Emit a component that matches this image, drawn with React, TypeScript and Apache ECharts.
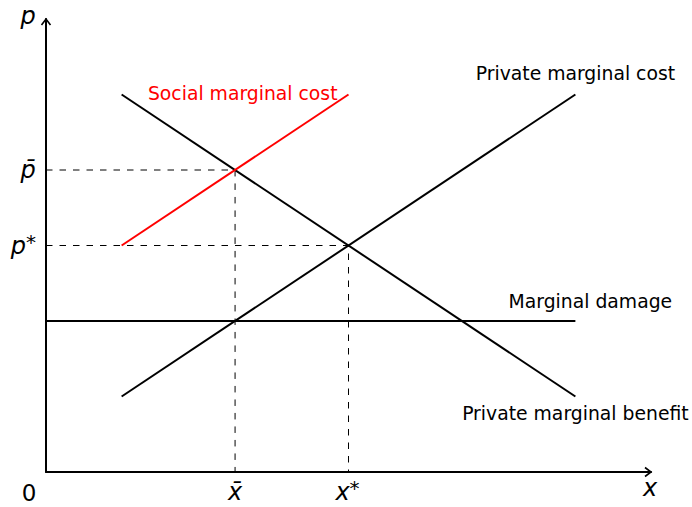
import React, { useEffect, useRef } from "react";
import * as echarts from "echarts";

// Curves (x, p) in diagram units
const privateMarginalCost: [number, number][] = [[1, 1], [7, 5]];
const privateMarginalBenefit: [number, number][] = [[1, 5], [7, 1]];
const marginalDamage: [number, number][] = [[0, 2], [7, 2]];
const socialMarginalCost: [number, number][] = [[1, 3], [4, 5]];
// Equilibria
const socialOptimum: [number, number] = [2.5, 4]; // (x̄, p̄)
const marketEquilibrium: [number, number] = [4, 3]; // (x*, p*)
// Axis extents
const xMax = 8;
const yMax = 6;
// Labels
const curveLabels = {
  pmc: "Private marginal cost",
  pmb: "Private marginal benefit",
  md: "Marginal damage",
  smc: "Social marginal cost",
};

const FONT = "DejaVu Sans";

export default function App() {
  const ref = useRef<HTMLDivElement>(null);

  useEffect(() => {
    const el = ref.current!;
    const chart = echarts.init(el, null, { renderer: "svg" });

    const solid = (name: string, data: [number, number][], color: string) => ({
      type: "line",
      name,
      data,
      symbol: "none",
      silent: true,
      lineStyle: { color, width: 2 },
      z: 3,
    });
    const dashed = (name: string, pt: [number, number]) => ({
      type: "line",
      name,
      data: [[0, pt[1]], [pt[0], pt[1]], [pt[0], 0]],
      symbol: "none",
      silent: true,
      lineStyle: { color: "#000", width: 1, type: [6.5, 7] },
      z: 2,
    });

    const axisCommon = {
      type: "value",
      axisLine: { show: true, onZero: false, lineStyle: { color: "#000", width: 2 } },
      axisTick: { show: false },
      axisLabel: { show: false },
      splitLine: { show: false },
    };

    chart.setOption({
      animation: false,
      backgroundColor: "#fff",
      grid: { left: 46, top: 19, right: 41, bottom: 35 },
      xAxis: { ...axisCommon, min: 0, max: xMax },
      yAxis: { ...axisCommon, min: 0, max: yMax },
      series: [
        dashed("pbar", socialOptimum),
        dashed("pstar", marketEquilibrium),
        solid(curveLabels.pmc, privateMarginalCost, "#000"),
        solid(curveLabels.pmb, privateMarginalBenefit, "#000"),
        solid(curveLabels.md, marginalDamage, "#000"),
        solid(curveLabels.smc, socialMarginalCost, "#ff0000"),
      ],
    });

    const px = (p: [number, number]) =>
      chart.convertToPixel({ xAxisIndex: 0, yAxisIndex: 0 }, p) as number[];

    const last = (arr: [number, number][]) => arr[arr.length - 1];

    const txt = (
      text: string,
      pos: number[],
      dx: number,
      dy: number,
      opts: any = {}
    ) => ({
      type: "text",
      x: pos[0] + dx,
      y: pos[1] + dy,
      silent: true,
      z: 10,
      style: {
        text,
        fill: opts.fill || "#000",
        font: `${opts.italic ? "italic " : ""}${opts.size || 18.8}px "${FONT}"`,
        align: opts.align || "center",
        verticalAlign: "middle",
        ...(opts.rich ? { rich: opts.rich } : {}),
      },
    });

    const math = (size: number) => ({
      m: { fontSize: size, fontStyle: "italic", fontFamily: FONT, lineHeight: 28, fill: "#000" },
      s: { fontSize: 20, fontFamily: FONT, lineHeight: 20, verticalAlign: "top", fill: "#000" },
    });

    const origin = px([0, 0]);
    const xEnd = px([xMax, 0]);
    const yEnd = px([0, yMax]);
    const pBarAxis = px([0, socialOptimum[1]]);
    const pStarAxis = px([0, marketEquilibrium[1]]);
    const xBarAxis = px([socialOptimum[0], 0]);
    const xStarAxis = px([marketEquilibrium[0], 0]);

    const arrowStyle = { stroke: "#000", lineWidth: 1.6, fill: "none" };

    chart.setOption({
      graphic: [
        {
          type: "polyline",
          silent: true,
          z: 10,
          shape: {
            points: [
              [xEnd[0] - 6, xEnd[1] - 4.5],
              [xEnd[0], xEnd[1]],
              [xEnd[0] - 6, xEnd[1] + 4.5],
            ],
          },
          style: arrowStyle,
        },
        {
          type: "polyline",
          silent: true,
          z: 10,
          shape: {
            points: [
              [yEnd[0] - 4.5, yEnd[1] + 6],
              [yEnd[0], yEnd[1]],
              [yEnd[0] + 4.5, yEnd[1] + 6],
            ],
          },
          style: arrowStyle,
        },
        // curve labels
        txt(curveLabels.pmc, px(last(privateMarginalCost)), 0, -21),
        txt(curveLabels.pmb, px(last(privateMarginalBenefit)), 0, 17),
        txt(curveLabels.md, px(last(marginalDamage)), 15, -20),
        txt(curveLabels.smc, px(last(socialMarginalCost)), -11, -1, { align: "right", fill: "#ff0000" }),
        // axis labels
        txt("p", yEnd, -18, -3, { italic: true, size: 24 }),
        txt("x", xEnd, -1, 16, { italic: true, size: 24 }),
        txt("0", origin, -17, 21, { size: 23 }),
        txt("p\u0304", pBarAxis, -18, 0, { italic: true, size: 24 }),
        txt("{m|p}{s|*}", pStarAxis, -10, 0, { align: "right", rich: math(24) }),
        txt("x\u0304", xBarAxis, 0, 20, { italic: true, size: 24 }),
        txt("{m|x}{s|*}", xStarAxis, -1, 20, { rich: math(24) }),
      ],
    });

    return () => chart.dispose();
  }, []);

  return (
    <div
      ref={ref}
      style={{ position: "fixed", left: 0, top: 0, width: 692, height: 507 }}
    />
  );
}
